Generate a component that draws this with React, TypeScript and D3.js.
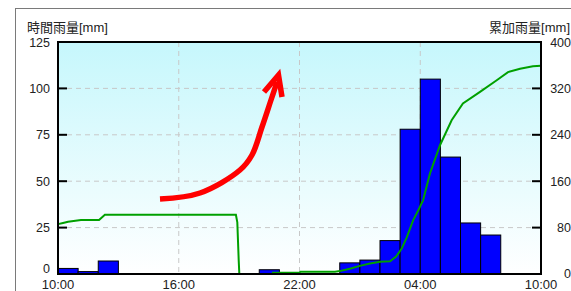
import React from "react";
import * as d3 from "d3";

// ---- Data ----
const xTickLabels = ["10:00", "16:00", "22:00", "04:00", "10:00"];
const xTickHours = [0, 6, 12, 18, 24];
const leftTicks = [0, 25, 50, 75, 100, 125];
const rightTicks = [0, 80, 160, 240, 320, 400];

// hourly rainfall bars (start hour offset from 10:00, value mm)
const rainStartHours = [0, 1, 2, 10, 14, 15, 16, 17, 18, 19, 20, 21];
const rainValues = [3, 1.3, 7, 2.3, 6, 7.5, 18, 78, 105, 63, 27.5, 21];

// cumulative rainfall (hour offset, value mm); null = gap
const cumHours = [
  0, 0.25, 0.5, 1.14, 2.04, 2.33, 8.84, 8.91, 8.98, 9.01, 9.5,
  10.63, 12.0, 12.05, 13.76, 14.0, 14.5, 15.0, 15.5, 16.0, 16.5, 16.8, 17.08,
  17.33, 17.64, 17.89, 18.14, 18.48, 18.98, 19.56, 20.12, 20.97, 21.8, 22.36,
  22.96, 23.6, 24,
];
const cumValues: (number | null)[] = [
  86, 88, 90, 93, 93, 102, 102, 89, 23, 0, null,
  2, 2, 4, 4, 5, 9, 14, 18, 21, 22, 30, 44,
  63, 92, 109, 127, 173, 222, 265, 294, 314, 334, 348,
  354, 358, 359,
];

// annotation arrow path (in chart pixel space)
const arrowPts: [number, number][] = [
  [160, 199],
  [200, 193],
  [240, 170],
  [252, 155],
  [262, 127],
  [271, 100],
  [277, 82],
];

export default function App() {
  const W = 571;
  const H = 291;
  const left = 58;
  const right = 541;
  const top = 42;
  const bottom = 274;

  const x = d3.scaleLinear().domain([0, 24]).range([left, right]);
  const yL = d3.scaleLinear().domain([0, 125]).range([bottom, top]);
  const yR = d3.scaleLinear().domain([0, 400]).range([bottom, top]);

  const cumData = cumHours.map((h, i) => ({ h, v: cumValues[i] }));
  const line = d3
    .line<{ h: number; v: number | null }>()
    .defined((d) => d.v !== null)
    .x((d) => x(d.h))
    .y((d) => yR(d.v as number));

  const arrowLine = d3.line().curve(d3.curveCatmullRom)(arrowPts) || "";

  const font = "'Liberation Sans', Arial, 'Noto Sans CJK JP', sans-serif";

  return (
    <svg
      width={W}
      height={H}
      style={{ position: "absolute", left: 0, top: 0, background: "#fff" }}
      fontFamily={font}
    >
      <defs>
        <linearGradient id="bg" x1="0" y1="0" x2="0" y2="1">
          <stop offset="0%" stopColor="#c6f7fc" />
          <stop offset="100%" stopColor="#ffffff" />
        </linearGradient>
      </defs>
      {/* outer frame */}
      <line x1={15} y1={8.5} x2={W} y2={8.5} stroke="#7a7a7a" strokeWidth={1} />
      <line x1={15.5} y1={8} x2={15.5} y2={H} stroke="#7a7a7a" strokeWidth={1} />

      {/* plot background */}
      <rect x={left} y={top} width={right - left} height={bottom - top} fill="url(#bg)" />

      {/* grid lines */}
      {leftTicks.slice(1, -1).map((t) => (
        <line
          key={"gh" + t}
          x1={left}
          x2={right}
          y1={yL(t)}
          y2={yL(t)}
          stroke="#c8c8c8"
          strokeDasharray="5,4"
        />
      ))}
      {xTickHours.slice(1, -1).map((h) => (
        <line
          key={"gv" + h}
          x1={x(h)}
          x2={x(h)}
          y1={top}
          y2={bottom}
          stroke="#c8c8c8"
          strokeDasharray="5,4"
        />
      ))}

      {/* bars */}
      {rainStartHours.map((h, i) => (
        <rect
          key={"b" + i}
          x={x(h)}
          y={yL(rainValues[i])}
          width={x(h + 1) - x(h)}
          height={bottom - yL(rainValues[i])}
          fill="#0000ff"
          stroke="#000"
          strokeWidth={1}
        />
      ))}

      {/* cumulative line */}
      <path d={line(cumData as any) || ""} fill="none" stroke="#00a000" strokeWidth={2} />

      {/* plot frame */}
      <rect
        x={left}
        y={top}
        width={right - left}
        height={bottom - top}
        fill="none"
        stroke="#000"
        strokeWidth={2}
      />

      {/* left ticks */}
      {leftTicks.slice(1, -1).map((t) => (
        <line key={"lt" + t} x1={left} x2={left + 9} y1={yL(t)} y2={yL(t)} stroke="#000" strokeWidth={2} />
      ))}
      {rightTicks.slice(1, -1).map((t) => (
        <line key={"rt" + t} x1={right - 9} x2={right} y1={yR(t)} y2={yR(t)} stroke="#000" strokeWidth={2} />
      ))}

      {/* left tick labels */}
      {leftTicks.map((t) => (
        <text
          key={"ll" + t}
          x={50}
          y={t === 0 ? yL(t) - 1 : yL(t) + 4.5}
          textAnchor="end"
          fontSize={12.5}
          fill="#222"
        >
          {t}
        </text>
      ))}
      {rightTicks.map((t) => (
        <text
          key={"rl" + t}
          x={571}
          y={t === 0 ? yR(t) + 4 : yR(t) + 4.5}
          textAnchor="end"
          fontSize={12.5}
          fill="#222"
        >
          {t}
        </text>
      ))}

      {/* x labels */}
      {xTickHours.map((h, i) => (
        <text key={"xl" + i} x={x(h)} y={289} textAnchor="middle" fontSize={13} fill="#222">
          {xTickLabels[i]}
        </text>
      ))}

      {/* axis titles */}
      <text x={27} y={32} fontSize={13} fill="#222">
        時間雨量[mm]
      </text>
      <text x={570} y={32} fontSize={13} fill="#222" textAnchor="end">
        累加雨量[mm]
      </text>

      {/* red annotation arrow */}
      <path d={arrowLine} fill="none" stroke="#ff0000" strokeWidth={5.5} strokeLinecap="butt" />
      <path
        d={d3.line()([
          [264, 92],
          [278.5, 75],
          [282, 97],
        ]) || ""}
        fill="none"
        stroke="#ff0000"
        strokeWidth={5.5}
        strokeLinejoin="miter"
        strokeLinecap="butt"
      />
    </svg>
  );
}
